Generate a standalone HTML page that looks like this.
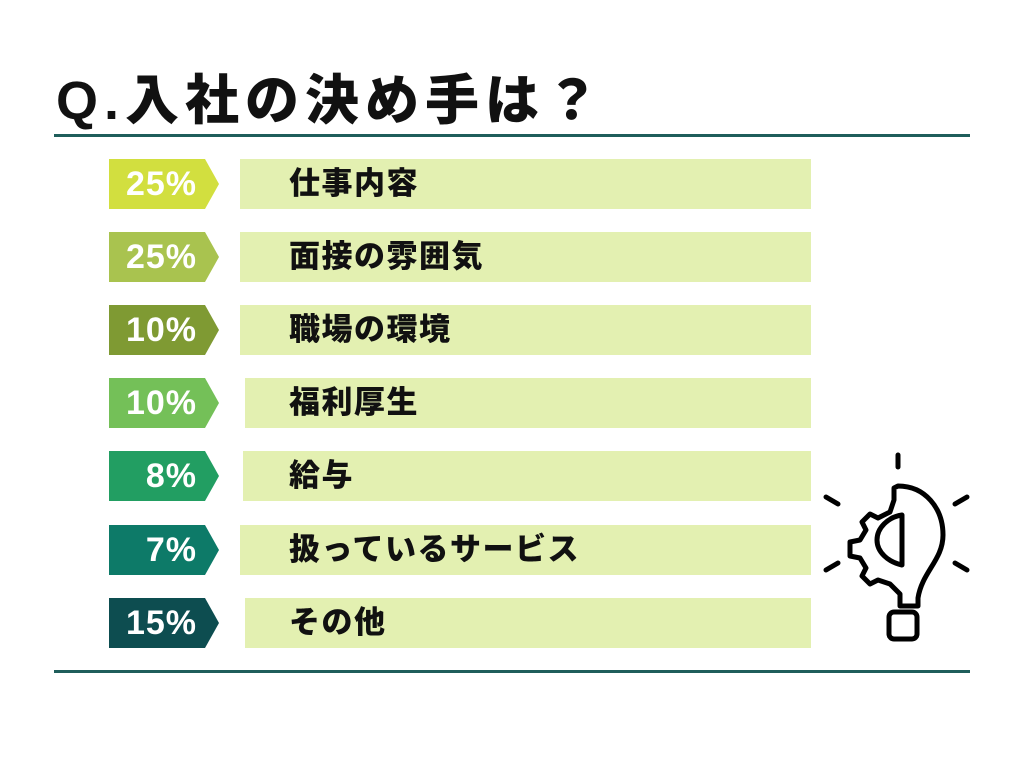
<!DOCTYPE html>
<html><head><meta charset="utf-8"><style>
body{margin:0;width:1024px;height:768px;background:#fff;position:relative;overflow:hidden;font-family:"Liberation Sans","Noto Sans CJK JP",sans-serif}
.t{position:absolute;left:56px;top:56px;font-size:54px;font-weight:900;color:#111;letter-spacing:6px}
.rule{position:absolute;left:54px;width:916px;height:3px;background:#1f5e5b}
.tag{position:absolute;left:109px;width:110px;height:50px;clip-path:polygon(0 0,96px 0,110px 50%,96px 100%,0 100%);color:#fff;font-weight:bold;font-size:34px;line-height:50px;text-align:right;box-sizing:border-box;padding-right:22px;letter-spacing:1px}
.bar{position:absolute;height:50px;background:#e3f0b1;right:213px;font-weight:900;font-size:31px;line-height:50px;color:#111;box-sizing:border-box;letter-spacing:1.5px}
</style></head><body>
<div class="t">Q.入社の決め手は？</div>
<div class="rule" style="top:134px"></div>
<div class="rule" style="top:670px"></div>

<div class="tag" style="top:159px;background:#d2df3f">25%</div><div class="bar" style="top:159px;left:240px;padding-left:49px">仕事内容</div>
<div class="tag" style="top:232px;background:#a9c34f">25%</div><div class="bar" style="top:232px;left:240px;padding-left:49px">面接の雰囲気</div>
<div class="tag" style="top:305px;background:#7f9a33">10%</div><div class="bar" style="top:305px;left:240px;padding-left:49px">職場の環境</div>
<div class="tag" style="top:378px;background:#74c058">10%</div><div class="bar" style="top:378px;left:245px;padding-left:44px">福利厚生</div>
<div class="tag" style="top:451px;background:#229e62">8%</div><div class="bar" style="top:451px;left:243px;padding-left:46px">給与</div>
<div class="tag" style="top:525px;background:#0d7a68">7%</div><div class="bar" style="top:525px;left:240px;padding-left:49px">扱っているサービス</div>
<div class="tag" style="top:598px;background:#0d4d50">15%</div><div class="bar" style="top:598px;left:245px;padding-left:44px">その他</div>

<svg style="position:absolute;left:0;top:0" width="1024" height="768" fill="none" stroke="#000" stroke-width="5" stroke-linecap="round" stroke-linejoin="round">
<line x1="898" y1="455" x2="898" y2="467"/>
<line x1="826" y1="497" x2="838" y2="504"/>
<line x1="955" y1="504" x2="967" y2="497"/>
<line x1="826" y1="570" x2="838" y2="563"/>
<line x1="955" y1="563" x2="967" y2="570"/>
<path d="M898 486 C925 486 943 508 943 535 C943 560 922 572 918 598 L918 606 L900 606 L900 594 L890 584 L878 580 L870 584 L862 576 L866 568 L860 558 L850 556 L850 542 L860 540 L866 530 L862 522 L870 514 L878 518 L890 512 L894 500 L894 488 Z"/>
<path d="M902 515 L902 565 C888 562 877 552 877 540 C877 528 888 517 902 515 Z"/>
<rect x="889" y="612" width="28" height="27" rx="5"/>
</svg>
</body></html>
